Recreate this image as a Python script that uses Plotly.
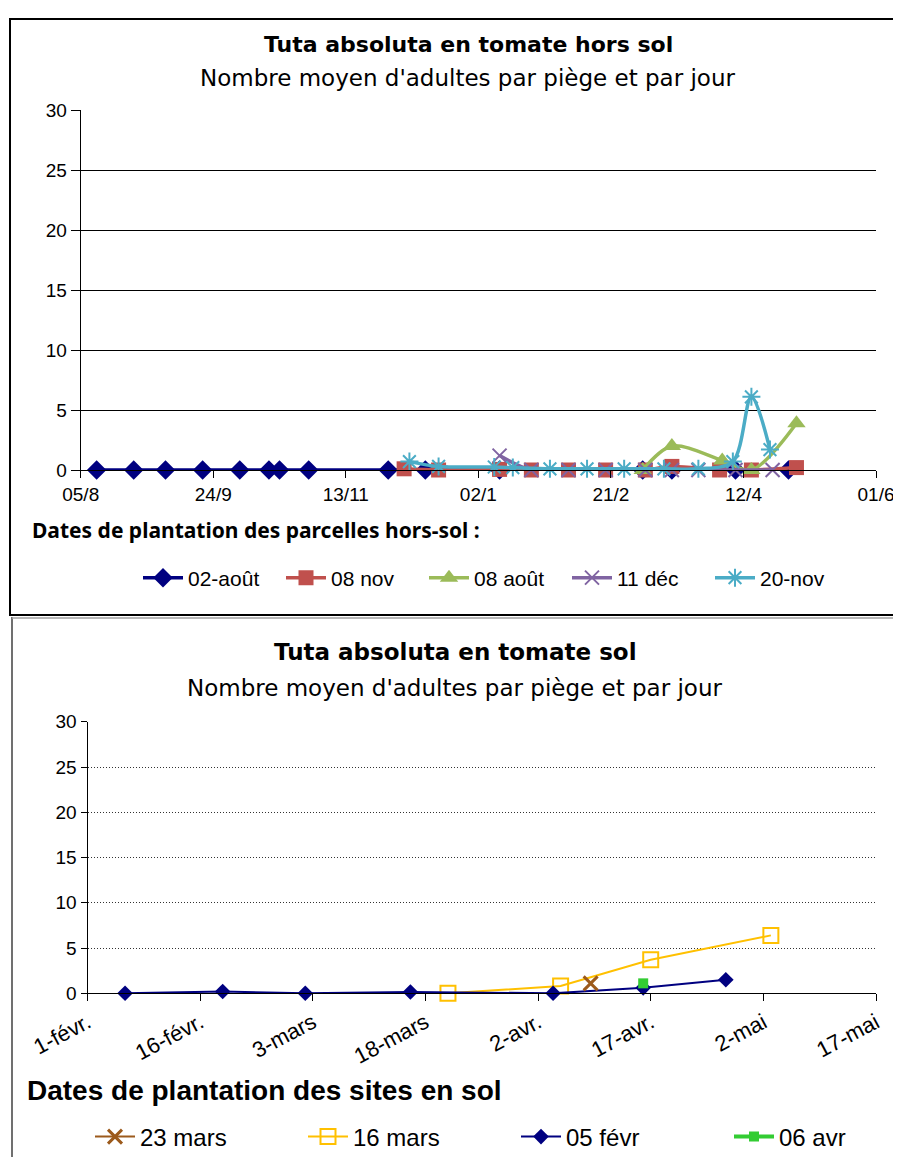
import plotly.graph_objects as go

W, H = 901, 1157
OFF = 8  # page body margin compensation

# ---------------- Data: top chart (hors sol) ----------------
top_tick_dates = ['2008-08-05', '2008-09-24', '2008-11-13', '2009-01-02', '2009-02-21', '2009-04-12', '2009-06-01']
top_tick_labels = ['05/8', '24/9', '13/11', '02/1', '21/2', '12/4', '01/6']

aout02_dates = ['2008-08-11', '2008-08-25', '2008-09-06', '2008-09-20', '2008-10-04', '2008-10-15',
                '2008-10-19', '2008-10-30', '2008-11-29', '2008-12-13', '2009-01-10', '2009-03-05',
                '2009-03-16', '2009-04-09', '2009-04-29']
aout02_vals = [0, 0, 0, 0, 0, 0, 0, 0, 0, 0, 0, 0, 0, 0, 0]

nov08_dates = ['2008-12-05', '2008-12-18', '2009-01-10', '2009-01-22', '2009-02-05', '2009-02-19',
               '2009-03-06', '2009-03-16', '2009-04-03', '2009-04-15', '2009-05-02']
nov08_vals = [0.1, 0, 0.05, 0, 0, 0, 0, 0.3, 0, 0, 0.2]

aout08_dates = ['2009-03-05', '2009-03-16', '2009-04-04', '2009-04-15', '2009-05-02']
aout08_vals = [0, 2.0, 0.8, 0, 3.9]

dec11_dates = ['2009-01-10', '2009-01-22', '2009-02-05', '2009-02-19', '2009-03-06', '2009-03-16',
               '2009-03-26', '2009-04-09', '2009-04-23']
dec11_vals = [1.2, 0, 0, 0, 0, 0, 0, 0, 0]

nov20_dates = ['2008-12-07', '2008-12-18', '2009-01-08', '2009-01-15', '2009-01-29', '2009-02-12',
               '2009-02-26', '2009-03-13', '2009-03-26', '2009-04-08', '2009-04-15', '2009-04-22']
nov20_vals = [0.7, 0.3, 0.25, 0.2, 0.1, 0.1, 0.1, 0.1, 0.1, 0.7, 6.1, 1.7]

# ---------------- Data: bottom chart (sol) ----------------
bot_tick_dates = ['2009-02-01', '2009-02-16', '2009-03-03', '2009-03-18', '2009-04-02', '2009-04-17',
                  '2009-05-02', '2009-05-17']
bot_tick_labels = ['1-févr.', '16-févr.', '3-mars', '18-mars', '2-avr.', '17-avr.', '2-mai', '17-mai']

mars23_dates = ['2009-04-09']
mars23_vals = [1.1]

mars16_dates = ['2009-03-21', '2009-04-05', '2009-04-17', '2009-05-03']
mars16_vals = [0, 0.8, 3.7, 6.4]

fevr05_dates = ['2009-02-06', '2009-02-19', '2009-03-02', '2009-03-16', '2009-04-04', '2009-04-16', '2009-04-27']
fevr05_vals = [0, 0.2, 0, 0.15, 0, 0.6, 1.5]

avr06_dates = ['2009-04-16']
avr06_vals = [1.1]


def px_x(p):
    return (p - OFF) / W


def px_y(p):
    return 1 - (p - OFF) / H


fig = go.Figure()

# ---- top traces ----
top_specs = [
    ('02-août', aout02_dates, aout02_vals, '#000080', 'diamond', 15),
    ('08 nov', nov08_dates, nov08_vals, '#C0504D', 'square', 15),
    ('08 août', aout08_dates, aout08_vals, '#9BBB59', 'triangle-up', 16),
    ('11 déc', dec11_dates, dec11_vals, '#8064A2', 'x-thin', 14),
    ('20-nov', nov20_dates, nov20_vals, '#4BACC6', 'asterisk', 15),
]
for name, xs, ys, col, sym, sz in top_specs:
    marker = dict(symbol=sym, size=sz, color=col)
    if sym in ('x-thin', 'asterisk'):
        marker['line'] = dict(color=col, width=2)
    fig.add_trace(go.Scatter(
        x=xs, y=ys, name=name, mode='lines+markers',
        line=dict(color=col, width=3.5, shape='spline', smoothing=0.9),
        marker=marker, xaxis='x', yaxis='y', legend='legend', cliponaxis=False))

# ---- bottom traces (drawing order) ----
fig.add_trace(go.Scatter(
    x=mars16_dates, y=mars16_vals, name='16 mars', mode='lines+markers', legendrank=2,
    line=dict(color='#FFC000', width=2),
    marker=dict(symbol='square-open', size=15, color='#FFC000', line=dict(width=2, color='#FFC000')),
    xaxis='x2', yaxis='y2', legend='legend2', cliponaxis=False))
fig.add_trace(go.Scatter(
    x=fevr05_dates, y=fevr05_vals, name='05 févr', mode='lines+markers', legendrank=3,
    line=dict(color='#000080', width=2),
    marker=dict(symbol='diamond', size=12, color='#000080'),
    xaxis='x2', yaxis='y2', legend='legend2', cliponaxis=False))
fig.add_trace(go.Scatter(
    x=mars23_dates, y=mars23_vals, name='23 mars', mode='lines+markers', legendrank=1,
    line=dict(color='#9C5A1C', width=2),
    marker=dict(symbol='x-thin', size=14, color='#9C5A1C', line=dict(width=3, color='#9C5A1C')),
    xaxis='x2', yaxis='y2', legend='legend2', cliponaxis=False))
fig.add_trace(go.Scatter(
    x=avr06_dates, y=avr06_vals, name='06 avr', mode='lines+markers', legendrank=4,
    line=dict(color='#33CC33', width=4),
    marker=dict(symbol='square', size=10, color='#33CC33'),
    xaxis='x2', yaxis='y2', legend='legend2', cliponaxis=False))

ytickfont = dict(family='Liberation Sans, Arial', size=19, color='black')
xtickfont = dict(family='Liberation Sans, Arial', size=19, color='black')

fig.update_layout(
    width=W, height=H,
    margin=dict(l=0, r=0, t=0, b=0, autoexpand=False),
    paper_bgcolor='white', plot_bgcolor='white',
    xaxis=dict(domain=[px_x(80.7), px_x(876)], anchor='y', type='date', automargin=False,
               range=[top_tick_dates[0], top_tick_dates[-1]],
               tickvals=top_tick_dates, ticktext=top_tick_labels,
               ticks='outside', ticklen=7, tickcolor='black', tickwidth=1,
               showline=True, linecolor='black', linewidth=1, showgrid=False,
               zeroline=False, tickfont=xtickfont),
    yaxis=dict(domain=[px_y(470), px_y(110)], anchor='x', range=[0, 30], dtick=5, automargin=False,
               ticks='outside', ticklen=9, tickcolor='black', tickwidth=1,
               showline=True, linecolor='black', linewidth=1,
               showgrid=True, gridcolor='black', gridwidth=1, zeroline=False,
               tickfont=ytickfont),
    xaxis2=dict(domain=[px_x(87.5), px_x(876)], anchor='y2', type='date', automargin=False,
                range=[bot_tick_dates[0], bot_tick_dates[-1]],
                tickvals=bot_tick_dates, ticktext=bot_tick_labels, tickangle=-28,
                ticks='outside', ticklen=7, tickcolor='black', tickwidth=1,
                showline=True, linecolor='black', linewidth=1, showgrid=False,
                zeroline=False, tickfont=dict(family='Liberation Sans, Arial', size=22, color='black')),
    yaxis2=dict(domain=[px_y(993.3), px_y(721.8)], anchor='x2', range=[0, 30], dtick=5, automargin=False,
                ticks='outside', ticklen=6, tickcolor='black', tickwidth=1,
                showline=True, linecolor='black', linewidth=1,
                showgrid=True, gridcolor='#333333', gridwidth=1, griddash='1px,2px', zeroline=False,
                tickfont=dict(family='Liberation Sans, Arial', size=19, color='black')),
    legend=dict(orientation='h', x=px_x(138), y=px_y(578), xanchor='left', yanchor='middle',
                font=dict(family='Liberation Sans, Arial', size=21, color='black'),
                entrywidth=88, entrywidthmode='pixels', bgcolor='rgba(0,0,0,0)',
                itemwidth=40, tracegroupgap=0),
    legend2=dict(orientation='h', x=px_x(90), y=px_y(1137), xanchor='left', yanchor='middle',
                 font=dict(family='Liberation Sans, Arial', size=24, color='black'),
                 entrywidth=158, entrywidthmode='pixels', bgcolor='rgba(0,0,0,0)',
                 itemwidth=40, tracegroupgap=0),
    showlegend=True,
)

title_font = 'DejaVu Sans, Noto Sans, sans-serif'
annotations = [
    dict(text='<b>Tuta absoluta en tomate hors sol</b>', x=px_x(468), y=px_y(44),
         font=dict(family=title_font, size=22, color='black')),
    dict(text="Nombre moyen d'adultes par piège et par jour", x=px_x(468), y=px_y(78),
         font=dict(family=title_font, size=23, color='black')),
    dict(text='<b>Dates de plantation des parcelles hors-sol :</b>', x=px_x(30), y=px_y(530),
         xanchor='left', font=dict(family='Noto Sans', size=21, color='black')),
    dict(text='<b>Tuta absoluta en tomate sol</b>', x=px_x(455), y=px_y(652),
         font=dict(family=title_font, size=23, color='black')),
    dict(text="Nombre moyen d'adultes par piège et par jour", x=px_x(455), y=px_y(688),
         font=dict(family=title_font, size=23, color='black')),
    dict(text='<b>Dates de plantation des sites en sol</b>', x=px_x(25), y=px_y(1090),
         xanchor='left', font=dict(family='Liberation Sans, Arial', size=28, color='black')),
]
for a in annotations:
    a.setdefault('xanchor', 'center')
    a.update(xref='paper', yref='paper', yanchor='middle', showarrow=False)
fig.update_layout(annotations=annotations)

shapes = [
    dict(type='rect', xref='paper', yref='paper', x0=px_x(10), x1=px_x(915), y0=px_y(615), y1=px_y(19),
         line=dict(color='black', width=2)),
    dict(type='line', xref='paper', yref='paper', x0=px_x(12), x1=px_x(12), y0=px_y(617), y1=px_y(1170),
         line=dict(color='#707070', width=2)),
    dict(type='line', xref='paper', yref='paper', x0=px_x(12), x1=px_x(915), y0=px_y(618), y1=px_y(618),
         line=dict(color='#a0a0a0', width=1.5)),
]
fig.update_layout(shapes=shapes)

fig.write_html('out.html')
